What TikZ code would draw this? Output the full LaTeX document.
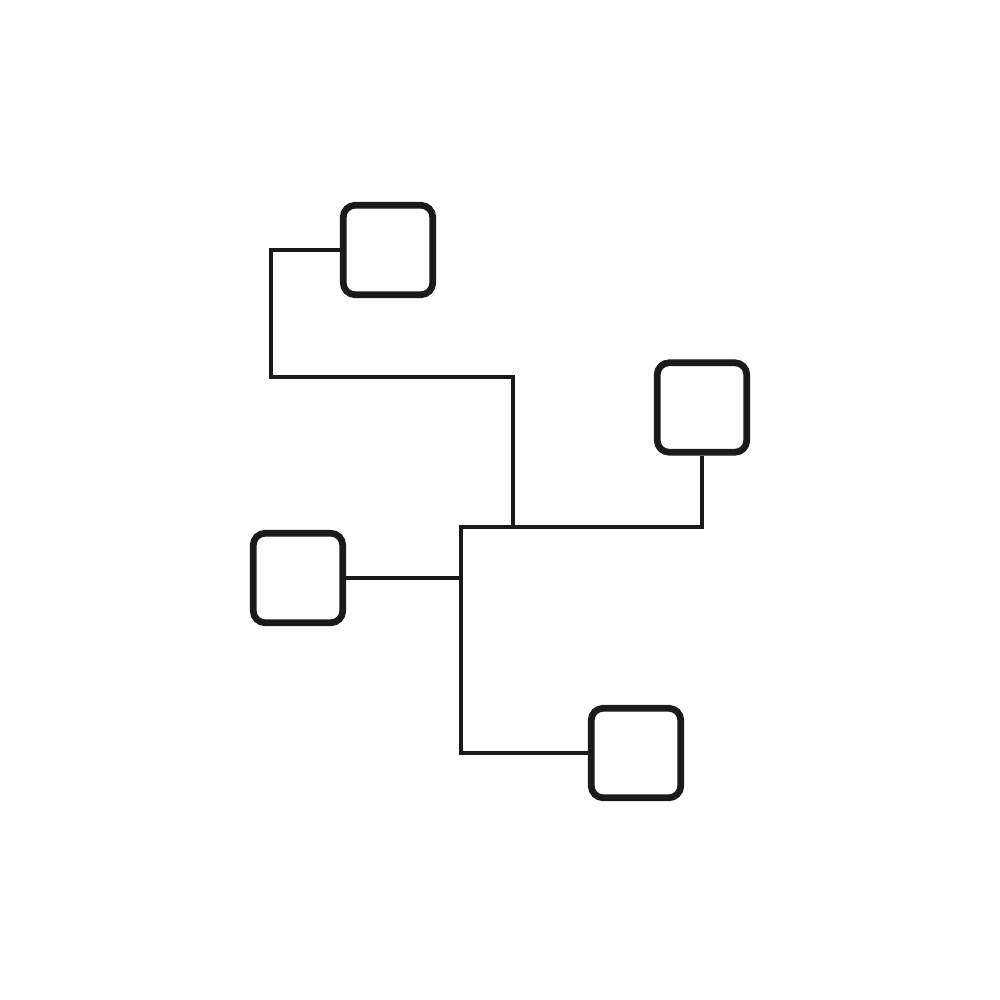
\documentclass[tikz,border=0pt]{standalone}
\begin{document}
\begin{tikzpicture}[x=0.01cm,y=-0.01cm,
  box/.style={draw=ink, line width=1.9pt, rounded corners=3.4pt, minimum size=0.895cm, inner sep=0pt, fill=white},
  wire/.style={draw=ink, line width=0.95pt}]
\definecolor{ink}{HTML}{1A1A1A}
\fill[white] (0,0) rectangle (1000,1000);
\useasboundingbox (0,0) rectangle (1000,1000);
\coordinate (hub) at (461,527);
\coordinate (tee) at (513,527);
\node[box] (b1) at (388,250) {};
\node[box] (b2) at (702,407.5) {};
\node[box] (b3) at (298,578) {};
\node[box] (b4) at (636,753) {};
\draw[wire] (b1.west) -- (271,250) -- (271,377) -- (513,377) -- (tee);
\draw[wire] (b2.south) -- (702,527) -- (hub) -- (461,753) -- (b4.west);
\draw[wire] (b3.east) -- (461,578);
\end{tikzpicture}
\end{document}
